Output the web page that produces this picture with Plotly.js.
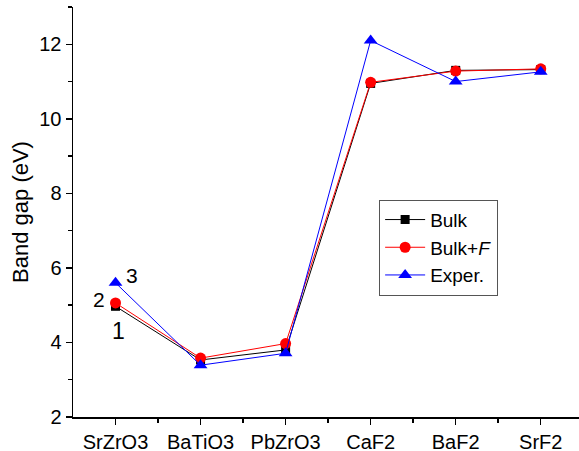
<!DOCTYPE html>
<html><head><meta charset="utf-8">
<script src="https://cdn.plot.ly/plotly-3.0.1.min.js"></script>
<style>html,body{margin:0;padding:0;background:#fff}#chart{width:579px;height:451px}</style>
</head><body><div id="chart"></div>
<script>
const categories = ["SrZrO3","BaTiO3","PbZrO3","CaF2","BaF2","SrF2"];
const bulk = [4.97, 3.53, 3.80, 10.95, 11.30, 11.32];
const bulkF = [5.06, 3.58, 3.97, 10.98, 11.28, 11.34];
const exper = [5.60, 3.39, 3.71, 12.10, 11.00, 11.26];
const labels = ["1","2","3"];

const xs = categories.map((c,i)=>i);
const minorX = categories.map((c,i)=>i+0.5);
const F = "Liberation Sans, Arial, sans-serif";

const traces = [
  {x: xs, y: bulk, name: "Bulk", mode: "lines+markers",
   line:{color:"#000", width:1}, marker:{symbol:"square", size:9, color:"#000"}},
  {x: xs, y: bulkF, name: "Bulk+<i>F</i>", mode: "lines+markers",
   line:{color:"#ff0000", width:1}, marker:{symbol:"circle", size:11, color:"#ff0000"}},
  {x: xs, y: exper, name: "Exper.", mode: "lines+markers",
   line:{color:"#0000ff", width:1}, marker:{symbol:"triangle-up", size:12, color:"#0000ff"}}
];

const layout = {
  width: 579, height: 451,
  margin: {l:73, r:0, t:7, b:34},
  paper_bgcolor: "#fff", plot_bgcolor: "#fff",
  font: {family: F, color: "#000", size: 20},
  showlegend: true,
  legend: {x:0.605, y:0.53, xanchor:"left", yanchor:"top",
    bordercolor:"#555", borderwidth:1, bgcolor:"#fff",
    font:{family:F, size:19, color:"#000"}, tracegroupgap:0, itemwidth:40},
  xaxis: {range:[-0.5, 5.45], tickmode:"array", tickvals: xs, ticktext: categories,
    showgrid:false, zeroline:false, showline:true, linecolor:"#000", linewidth:1.5,
    ticks:"outside", ticklen:6, tickwidth:1.5, tickcolor:"#000",
    tickfont:{family:F, size:20, color:"#000"},
    minor:{tickmode:"array", tickvals: minorX, ticks:"outside", ticklen:4, tickwidth:1.5, tickcolor:"#000", showgrid:false}},
  yaxis: {range:[2, 13], tickmode:"linear", tick0:2, dtick:2,
    showgrid:false, zeroline:false, showline:true, linecolor:"#000", linewidth:1.5,
    ticks:"outside", ticklen:6, tickwidth:1.5, tickcolor:"#000",
    tickfont:{family:F, size:20, color:"#000"},
    title:{text:"Band gap (eV)", font:{family:F, size:22, color:"#000"}, standoff:4},
    minor:{dtick:1, ticks:"outside", ticklen:4, tickwidth:1.5, tickcolor:"#000", showgrid:false}},
  annotations: [
    {x:0.03, y:4.3, text:labels[0], size:23},
    {x:-0.19, y:5.15, text:labels[1], size:21},
    {x:0.195, y:5.8, text:labels[2], size:21}
  ].map(a => ({x:a.x, y:a.y, text:a.text, xref:"x", yref:"y", showarrow:false,
               font:{family:F, size:a.size, color:"#000"}}))
};

Plotly.newPlot("chart", traces, layout, {displayModeBar:false, staticPlot:true});
</script>
</body></html>
